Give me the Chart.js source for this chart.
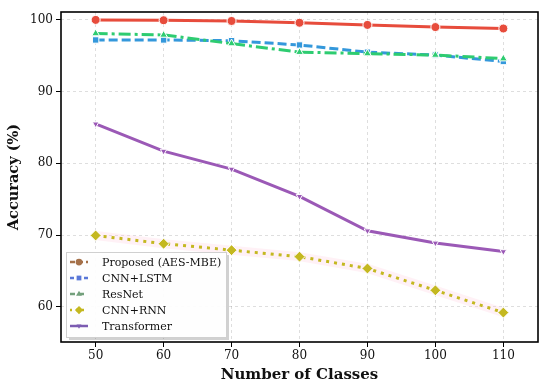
<!DOCTYPE html>
<html>
<head>
<meta charset="utf-8">
<script src="https://cdn.jsdelivr.net/npm/chart.js@4"></script>
<style>
  html, body { margin: 0; padding: 0; background: #fff; }
  #wrap { width: 550px; height: 388px; }
</style>
</head>
<body>
<div id="wrap"><canvas id="chart" width="550" height="388"></canvas></div>
<script>
  // number of classes on the x axis
  const classes = [50, 60, 70, 80, 90, 100, 110];
  const proposed = [100.0, 99.95, 99.85, 99.6, 99.3, 99.0, 98.8];
  const cnnLstm = [97.2, 97.2, 97.1, 96.5, 95.5, 95.1, 94.2];
  const resnet = [98.1, 97.9, 96.7, 95.5, 95.3, 95.1, 94.6];
  const cnnRnn = [69.95, 68.8, 67.9, 67.0, 65.35, 62.3, 59.2];
  const transformer = [85.5, 81.7, 79.2, 75.4, 70.6, 68.9, 67.7];
  const xTicks = [50, 60, 70, 80, 90, 100, 110];
  const yTicks = [60, 70, 80, 90, 100];

  const serif = "'DejaVu Serif', serif";

  function pts(vals) {
    return classes.map((c, i) => ({ x: c, y: vals[i] }));
  }

  const series = [
    { label: "Proposed (AES-MBE)", data: proposed, color: "#e74c3c", dash: [], style: "circle", r: 4.5, rot: 0,
      legendColor: "#a5714a", legendDash: [5, 3] },
    { label: "CNN+LSTM", data: cnnLstm, color: "#3498db", dash: [9, 4], style: "rect", r: 4.5, rot: 0,
      legendColor: "#5a78d8", legendDash: [4, 3] },
    { label: "ResNet", data: resnet, color: "#2ecc71", dash: [12, 4, 3, 4], style: "triangle", r: 4.5, rot: 0,
      legendColor: "#73a07c", legendDash: [5, 4] },
    { label: "CNN+RNN", data: cnnRnn, color: "#c4b820", dash: [3, 5], style: "rectRot", r: 5.5, rot: 0,
      legendColor: "#c4b820", legendDash: [2, 4] },
    { label: "Transformer", data: transformer, color: "#9b59b6", dash: [], style: "triangle", r: 3.8, rot: 180,
      legendColor: "#7c5cb2", legendDash: [] },
  ];

  const datasets = [
    {
      label: "_halo",
      data: pts(cnnRnn),
      borderColor: "rgba(255, 200, 220, 0.25)",
      borderWidth: 9,
      pointRadius: 0,
      fill: false,
      order: 10,
    },
  ].concat(series.map((s, i) => ({
    label: s.label,
    data: pts(s.data),
    borderColor: s.color,
    backgroundColor: s.color,
    borderWidth: 3,
    borderDash: s.dash,
    borderCapStyle: "butt",
    pointStyle: s.style,
    pointRadius: s.r,
    pointRotation: s.rot,
    pointBackgroundColor: s.color,
    pointBorderColor: "#fff",
    pointBorderWidth: 1,
    fill: false,
    order: 5 - i,
  })));

  const frame = {
    id: "frame",
    afterDraw(chart) {
      const { ctx, chartArea: a } = chart;
      ctx.save();
      ctx.strokeStyle = "#000";
      ctx.lineWidth = 1.6;
      ctx.strokeRect(a.left, a.top, a.right - a.left, a.bottom - a.top);

      // legend box, lower left inside the plot
      const bx = a.left + 5, bw = 160, bh = 85;
      const by = a.bottom - 5 - bh;
      ctx.fillStyle = "rgba(0,0,0,0.18)";
      ctx.fillRect(bx + 3, by + 3, bw, bh);
      ctx.fillStyle = "rgba(255,255,255,0.96)";
      ctx.fillRect(bx, by, bw, bh);
      ctx.strokeStyle = "#d0d0d0";
      ctx.lineWidth = 1;
      ctx.strokeRect(bx + 0.5, by + 0.5, bw, bh);

      ctx.font = "11px " + serif;
      ctx.textBaseline = "middle";
      series.forEach((s, i) => {
        const y = by + 10 + i * 16;
        ctx.strokeStyle = s.legendColor;
        ctx.lineWidth = 2.5;
        ctx.setLineDash(s.legendDash);
        ctx.beginPath();
        ctx.moveTo(bx + 4, y);
        ctx.lineTo(bx + 22, y);
        ctx.stroke();
        ctx.setLineDash([]);
        ctx.fillStyle = s.legendColor;
        Chart.helpers.drawPoint(ctx, {
          pointStyle: s.style,
          radius: s.r * 0.75,
          rotation: s.rot,
          borderWidth: 0,
        }, bx + 13, y);
        ctx.fillStyle = "#111";
        ctx.fillText(s.label, bx + 36, y + 1);
      });
      ctx.restore();
    },
  };

  new Chart(document.getElementById("chart"), {
    type: "line",
    data: { datasets },
    plugins: [frame],
    options: {
      responsive: false,
      animation: false,
      layout: { padding: { top: 12, right: 12, left: 6, bottom: 4 } },
      plugins: {
        legend: { display: false },
        tooltip: { enabled: false },
      },
      scales: {
        x: {
          type: "linear",
          min: 44.9,
          max: 115.1,
          afterBuildTicks: (axis) => { axis.ticks = xTicks.map((v) => ({ value: v })); },
          afterFit: (axis) => { axis.height = 42; },
          grid: {
            color: "rgba(0,0,0,0.13)",
            tickColor: "#000",
            tickLength: 5,
          },
          border: { display: false, dash: [3, 3] },
          ticks: {
            color: "#111",
            font: { family: serif, size: 12 },
            padding: 2,
            maxRotation: 0,
          },
          title: {
            display: true,
            text: "Number of Classes",
            color: "#111",
            font: { family: serif, size: 15, weight: "bold" },
            padding: { top: 2, bottom: 0 },
          },
        },
        y: {
          min: 55.1,
          max: 101.1,
          afterBuildTicks: (axis) => { axis.ticks = yTicks.map((v) => ({ value: v })); },
          afterFit: (axis) => { axis.width = 55; },
          grid: {
            color: "rgba(0,0,0,0.13)",
            tickColor: "#000",
            tickLength: 5,
          },
          border: { display: false, dash: [3, 3] },
          ticks: {
            color: "#111",
            font: { family: serif, size: 12 },
            padding: 3,
          },
          title: {
            display: true,
            text: "Accuracy (%)",
            color: "#111",
            font: { family: serif, size: 14.5, weight: "bold" },
            padding: { top: 0, bottom: 2 },
          },
        },
      },
    },
  });
</script>
</body>
</html>
